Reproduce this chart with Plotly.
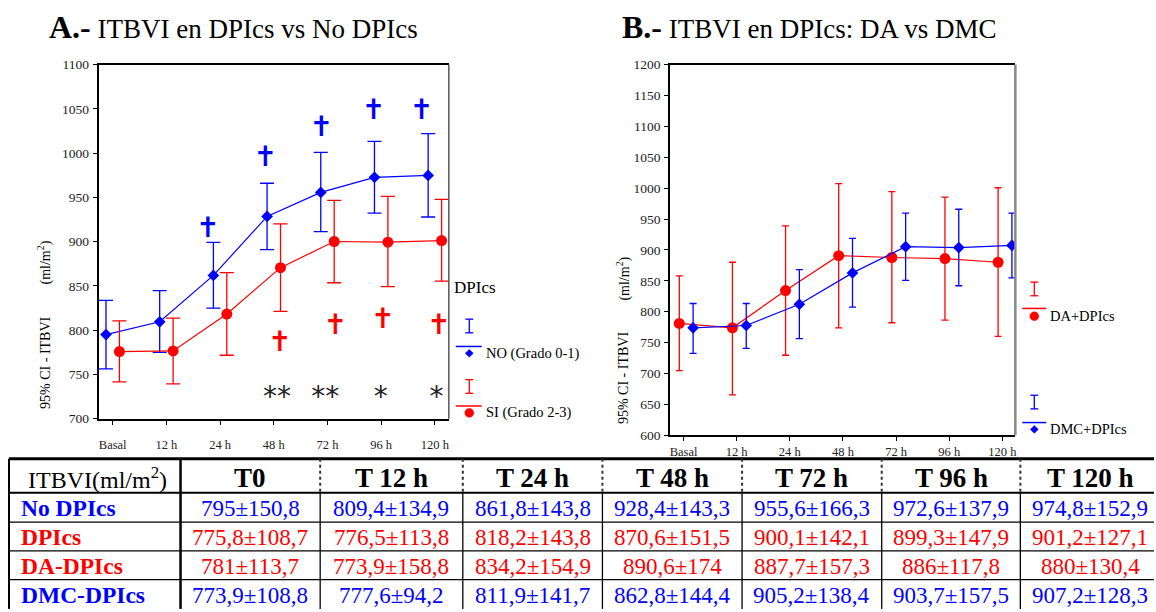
import plotly.graph_objects as go

W, H = 1156, 612
SERIF = "Liberation Serif"
BLUE = "#0000FF"
RED = "#FF0000"

# ---------------- data ----------------
times = ["Basal", "12 h", "24 h", "48 h", "72 h", "96 h", "120 h"]
table_cols = ["T0", "T 12 h", "T 24 h", "T 48 h", "T 72 h", "T 96 h", "T 120 h"]

# Panel A: No DPIcs (Grado 0-1) vs DPIcs (Grado 2-3)
no_mean = [795, 809.4, 861.8, 928.4, 955.6, 972.6, 974.8]
no_sd = [150.8, 134.9, 143.8, 143.3, 166.3, 137.9, 152.9]
no_ci_hi = [833.7, 844.7, 899.1, 965.9, 1000.8, 1013.3, 1022.0]
no_ci_lo = [756.2, 774.9, 824.8, 891.0, 911.2, 932.2, 927.8]

si_mean = [775.8, 776.5, 818.2, 870.6, 900.1, 899.3, 901.2]
si_sd = [108.7, 113.8, 143.8, 151.5, 142.1, 147.9, 127.1]
si_ci_hi = [810.5, 813.5, 865.0, 920.0, 946.5, 951.0, 947.6]
si_ci_lo = [741.5, 739.3, 771.6, 821.2, 853.5, 849.1, 855.4]

# Panel B: DA vs DMC
da_mean = [781, 773.9, 834.2, 890.6, 887.7, 886, 880]
da_sd = [113.7, 158.8, 154.9, 174, 157.3, 117.8, 130.4]
da_ci_hi = [857.9, 880.0, 939.0, 1007.4, 994.2, 985.3, 1000.6]
da_ci_lo = [704.7, 665.2, 729.5, 773.7, 782.1, 786.3, 760.0]

dmc_mean = [773.9, 777.6, 811.9, 862.8, 905.2, 903.7, 907.2]
dmc_sd = [108.8, 94.2, 141.7, 144.4, 138.4, 157.5, 128.3]
dmc_ci_hi = [813.2, 813.2, 868.0, 918.5, 959.5, 965.8, 959.5]
dmc_ci_lo = [732.6, 740.5, 756.3, 807.3, 850.5, 842.0, 854.7]

# significance markers (panel A): time, level
dag_no_t = ["24 h", "48 h", "72 h", "96 h", "120 h"]
dag_no_y = [913.0, 993.0, 1027.0, 1046.0, 1046.0]
dag_si_t = ["48 h", "72 h", "96 h", "120 h"]
dag_si_y = [784.0, 803.0, 810.0, 803.0]
star_t = ["48 h", "72 h", "96 h", "120 h"]
star_txt = ["**", "**", "*", "*"]
star_y = 722.0

# placement offsets of the markers (category units)
dag_no_dx = [-0.23, -0.16, -0.115, -0.143, -0.25]
dag_si_dx = [0.11, 0.145, 0.03, 0.07]
star_dx = [0.06, -0.04, -0.01, 0.03]

# table layout (pixel edges)
col_edges = [8, 180, 320, 463, 603, 743, 883, 1022, 1162]
row_edges = [463, 498, 528, 557.5, 587, 617]


def px(x):
    return x / W


def py(y):
    return 1 - y / H


def pos(labels, off):
    if not isinstance(off, list):
        off = [off] * len(labels)
    return [times.index(t) + o for t, o in zip(labels, off)]


fig = go.Figure()


def err(mean, hi, lo):
    return dict(type="data", symmetric=False,
                array=[h - m for h, m in zip(hi, mean)],
                arrayminus=[m - l for m, l in zip(mean, lo)])


# ---------- panel A traces ----------
fig.add_trace(go.Scatter(
    x=pos(times, -0.125), y=no_mean, mode="lines+markers",
    line=dict(color=BLUE, width=1.2),
    marker=dict(symbol="diamond", size=9, color=BLUE),
    error_y=dict(**err(no_mean, no_ci_hi, no_ci_lo), color=BLUE, thickness=1.3, width=7),
    xaxis="x", yaxis="y", showlegend=False))
fig.add_trace(go.Scatter(
    x=pos(times, 0.125), y=si_mean, mode="lines+markers",
    line=dict(color=RED, width=1.2),
    marker=dict(symbol="circle", size=11, color=RED),
    error_y=dict(**err(si_mean, si_ci_hi, si_ci_lo), color=RED, thickness=1.3, width=7),
    xaxis="x", yaxis="y", showlegend=False))

fig.add_trace(go.Scatter(
    x=pos(dag_no_t, dag_no_dx), y=dag_no_y, mode="text", text=["<b>✝</b>"] * len(dag_no_t),
    textfont=dict(family="DejaVu Sans", size=28, color=BLUE),
    xaxis="x", yaxis="y", showlegend=False, hoverinfo="skip"))
fig.add_trace(go.Scatter(
    x=pos(dag_si_t, dag_si_dx), y=dag_si_y, mode="text", text=["<b>✝</b>"] * len(dag_si_t),
    textfont=dict(family="DejaVu Sans", size=28, color=RED),
    xaxis="x", yaxis="y", showlegend=False, hoverinfo="skip"))
fig.add_trace(go.Scatter(
    x=pos(star_t, star_dx), y=[star_y] * len(star_t), mode="text", text=star_txt,
    textfont=dict(family="DejaVu Sans", size=28, color="#222222"),
    xaxis="x", yaxis="y", showlegend=False, hoverinfo="skip"))

# ---------- panel B traces ----------
fig.add_trace(go.Scatter(
    x=pos(times, -0.08), y=da_mean, mode="lines+markers",
    line=dict(color=RED, width=1.2),
    marker=dict(symbol="circle", size=11, color=RED),
    error_y=dict(**err(da_mean, da_ci_hi, da_ci_lo), color=RED, thickness=1.3, width=3.5),
    xaxis="x2", yaxis="y2", showlegend=False))
fig.add_trace(go.Scatter(
    x=pos(times, 0.18), y=dmc_mean, mode="lines+markers",
    line=dict(color=BLUE, width=1.2),
    marker=dict(symbol="diamond", size=9, color=BLUE),
    error_y=dict(**err(dmc_mean, dmc_ci_hi, dmc_ci_lo), color=BLUE, thickness=1.3, width=3.5),
    xaxis="x2", yaxis="y2", showlegend=False))

# ---------- layout ----------
axis_common = dict(showgrid=False, zeroline=False, showline=True, linecolor="black",
                   linewidth=2, ticks="outside", ticklen=4, tickwidth=1.3, tickcolor="black",
                   tickfont=dict(family=SERIF, size=13.5, color="#222222"))

fig.update_layout(
    width=W, height=H, margin=dict(l=0, r=0, t=0, b=0),
    paper_bgcolor="white", plot_bgcolor="white",
    font=dict(family=SERIF, color="black"),
    xaxis=dict(domain=[px(98), px(449)], range=[-0.26, 6.26], tickvals=list(range(7)),
               ticktext=times, anchor="y", mirror=True, ticklabelstandoff=9, **axis_common),
    yaxis=dict(domain=[py(422), py(59)], range=[700, 1100], dtick=50, anchor="x",
               ticklabelstandoff=1, **axis_common),
    xaxis2=dict(domain=[px(671), px(1017)], range=[-0.25, 6.245], tickvals=list(range(7)),
                ticktext=times, anchor="y2", mirror=True, **axis_common),
    yaxis2=dict(domain=[py(439), py(59)], range=[600, 1200], dtick=50, anchor="x2",
                ticklabelstandoff=1, **axis_common),
)
fig.update_xaxes(tickfont=dict(size=12.5))

shapes = []
# right borders of the plot boxes
shapes.append(dict(type="line", xref="paper", yref="paper", x0=px(449), x1=px(449),
                   y0=py(422), y1=py(59), line=dict(color="#555555", width=1.5)))
shapes.append(dict(type="line", xref="paper", yref="paper", x0=px(1017), x1=px(1017),
                   y0=py(439), y1=py(59), line=dict(color="#888888", width=2.5)))


def seg(x0, y0, x1, y1, color, width, dash="solid"):
    return dict(type="line", xref="paper", yref="paper", x0=px(x0), x1=px(x1), y0=py(y0), y1=py(y1),
                line=dict(color=color, width=width, dash=dash))


def ibar(cx, y0, y1, color, hw=4):
    out = [seg(cx, y0, cx, y1, color, 1.3)]
    for yy in (y0, y1):
        out.append(seg(cx - hw, yy, cx + hw, yy, color, 1.3))
    return out


def diamond(cx, cy, r, color):
    path = (f"M{px(cx)},{py(cy - r)} L{px(cx + r)},{py(cy)} L{px(cx)},{py(cy + r)} "
            f"L{px(cx - r)},{py(cy)} Z")
    return dict(type="path", xref="paper", yref="paper", path=path,
                fillcolor=color, line=dict(color=color, width=0.5))


def dot(cx, cy, r, color):
    return dict(type="circle", xref="paper", yref="paper", x0=px(cx - r), x1=px(cx + r),
                y0=py(cy + r), y1=py(cy - r), fillcolor=color, line=dict(color=color, width=0.5))


# legend A
shapes += ibar(469.5, 320, 334, BLUE)
shapes.append(seg(456, 348, 482, 348, BLUE, 1.5))
shapes.append(diamond(469.5, 355, 4, BLUE))
shapes += ibar(469.5, 382, 396, RED)
shapes.append(seg(456, 409, 482, 409, RED, 1.5))
shapes.append(dot(469.5, 416, 4.5, RED))
# legend B
shapes += ibar(1036, 282, 296, RED)
shapes.append(seg(1024, 309, 1048, 309, RED, 1.5))
shapes.append(dot(1036, 317, 4.5, RED))
shapes += ibar(1036, 398, 412, BLUE)
shapes.append(seg(1024, 426, 1048, 426, BLUE, 1.5))
shapes.append(diamond(1036, 433, 4, BLUE))

# table grid
top, hdr_bot, bottom = row_edges[0], row_edges[1], row_edges[-1]
shapes.append(seg(col_edges[0], top, W, top, "black", 3))
shapes.append(seg(col_edges[0], hdr_bot, W, hdr_bot, "black", 2))
for r in row_edges[2:-1]:
    shapes.append(seg(col_edges[0], r, W, r, "black", 1.3))
shapes.append(seg(col_edges[0], top, col_edges[0], bottom, "black", 2))
shapes.append(seg(col_edges[1], top, col_edges[1], bottom, "black", 2.5))
for c in col_edges[2:-1]:
    shapes.append(seg(c, top, c, hdr_bot, "#333333", 2, "dot"))
    shapes.append(seg(c, hdr_bot, c, bottom, "black", 1.3))
fig.update_layout(shapes=shapes)

ann = []


def text(x, y, s, size, xanchor="left", angle=0, color="black"):
    ann.append(dict(x=px(x), y=py(y), xref="paper", yref="paper", text=s, showarrow=False,
                    xanchor=xanchor, yanchor="middle", textangle=angle,
                    font=dict(family=SERIF, size=size, color=color)))


# titles
text(46, 21, "<b><span style='font-size:32px'>A.-</span></b> ITBVI en DPIcs vs No DPIcs", 27)
text(621, 21, "<b><span style='font-size:32px'>B.-</span></b> ITBVI en DPIcs: DA vs DMC", 27)
# y-axis titles
text(44, 365, "95% CI - ITBVI", 14, xanchor="center", angle=-90)
text(44, 262, "(ml/m<sup>2</sup>)", 14, xanchor="center", angle=-90)
text(624, 380, "95% CI - ITBVI", 14, xanchor="center", angle=-90)
text(624, 278, "(ml/m<sup>2</sup>)", 14, xanchor="center", angle=-90)
# legend texts
text(452, 288, "DPIcs", 17)
text(484, 355, "NO (Grado 0-1)", 14.5)
text(484, 416, "SI (Grado 2-3)", 14.5)
text(1050, 317, "DA+DPIcs", 14.5)
text(1050, 433, "DMC+DPIcs", 14.5)


# table texts
def fmt(v):
    return f"{v:g}".replace(".", ",")


rows = [("No DPIcs", no_mean, no_sd, BLUE),
        ("DPIcs", si_mean, si_sd, RED),
        ("DA-DPIcs", da_mean, da_sd, RED),
        ("DMC-DPIcs", dmc_mean, dmc_sd, BLUE)]

hdr_y = (row_edges[0] + row_edges[1]) / 2 + 2
text(col_edges[0] + 17, hdr_y, "ITBVI(ml/m<sup>2</sup>)", 24)
for j, c in enumerate(table_cols):
    cx = (col_edges[j + 1] + col_edges[j + 2]) / 2
    text(cx, hdr_y, "<b>" + c + "</b>", 27, xanchor="center")
for i, (name, mean, sd, color) in enumerate(rows):
    ry = (row_edges[i + 1] + row_edges[i + 2]) / 2 + 1
    text(col_edges[0] + 10, ry, "<b>" + name + "</b>", 23.5, color=color)
    for j in range(len(table_cols)):
        cx = (col_edges[j + 1] + col_edges[j + 2]) / 2
        text(cx, ry, fmt(mean[j]) + "±" + fmt(sd[j]), 23, xanchor="center", color=color)

fig.update_layout(annotations=ann)

fig.write_html("out.html")
